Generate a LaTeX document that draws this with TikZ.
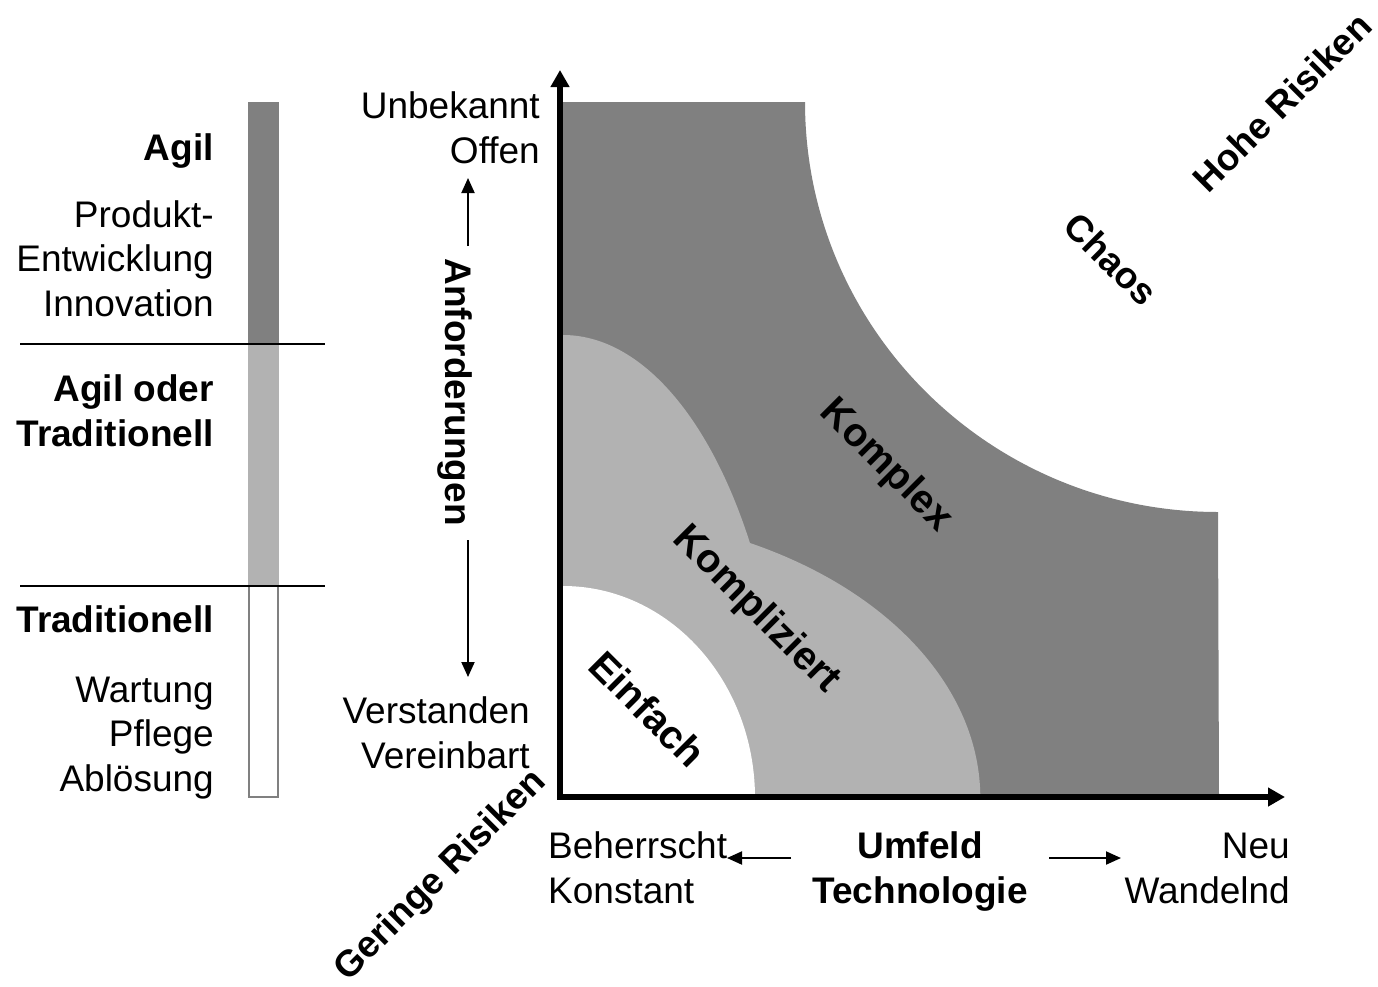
\documentclass[tikz,border=0pt]{standalone}
\usepackage{fontspec}
\setmainfont{Liberation Sans}
\usepackage{tikz}
\usetikzlibrary{arrows.meta}
\tikzset{
	axis/.style={line width=6pt, line join=miter, {Triangle[length=17pt,width=18pt]}-{Triangle[length=17pt,width=18pt]}},
	pfeil/.style={line width=2pt, -{Triangle[length=15pt,width=13pt]}}
}
\tikzstyle{dunkel}=[fill=black!50]
\tikzstyle{hell}=[fill=black!30]
\tikzstyle{txt}=[inner sep=0pt, font=\fontsize{37}{44.5}\selectfont]
\tikzstyle{fett}=[inner sep=0pt, font=\fontsize{37}{44.5}\selectfont\bfseries]
\tikzstyle{zone}=[inner sep=0pt, rotate=-45, font=\fontsize{40}{48}\selectfont\bfseries]

\begin{document}
\begin{tikzpicture}[x=1pt, y=-1pt]
	\useasboundingbox (0,0) rectangle (1378,986);
% zones
	\fill[dunkel] (563,102) -- (805,102) arc[start angle=180, end angle=90, x radius=413, y radius=410] -- (1219,798) -- (563,798) -- cycle;
	\fill[hell] (563,798) -- (563,335) arc[start angle=-90, end angle=-33.4, x radius=224, y radius=463]
		-- (750,543) arc[start angle=-63.4, end angle=0, x radius=417, y radius=285] -- cycle;
	\fill[white] (563,798) -- (563,586) arc[start angle=-90, end angle=0, x radius=192, y radius=212] -- cycle;
%
	\coordinate (O) at (560,797);
	\coordinate (ytip) at (560,70);
	\coordinate (xtip) at (1285,797);
	\draw[axis] (ytip) -- (O) -- (xtip);
%
	\node[fett, rotate=-45] (chaos) at (1111,259) {Chaos};
	\node[zone] (komplex) at (886,466) {Komplex};
	\node[zone] (kompliziert) at (756,610) {Kompliziert};
	\node[zone] (einfach) at (648,709) {Einfach};
	\node[fett, rotate=45] (hoch) at (1282,102) {Hohe Risiken};
	\node[fett, rotate=45] (gering) at (441,876) {Geringe Risiken};
% y axis
	\node[txt, anchor=base east, align=right] (unb) at (540,163) {Unbekannt\\Offen};
	\node[txt, anchor=base east, align=right] (ver) at (530,768) {Verstanden\\Vereinbart};
	\node[fett, rotate=-90] (anf) at (455,392) {Anforderungen};
	\coordinate (anfoben) at (468,246);
	\coordinate (anfunten) at (468,540);
	\coordinate (obentip) at (468,178);
	\coordinate (untentip) at (468,677);
	\draw[pfeil] (anfoben) -- (obentip);
	\draw[pfeil] (anfunten) -- (untentip);
% x axis
	\node[txt, anchor=base west, align=left] (beh) at (548,903) {Beherrscht\\Konstant};
	\node[fett, anchor=base, align=center] (umf) at (920,903) {Umfeld\\Technologie};
	\node[txt, anchor=base east, align=right] (neu) at (1290,903) {Neu\\Wandelnd};
	\coordinate (links) at (791,858);
	\coordinate (rechts) at (1049,858);
	\draw[pfeil] (links) -- (727,858);
	\draw[pfeil] (rechts) -- (1121,858);
% bar
	\fill[dunkel] (248,102) rectangle (279,344);
	\fill[hell] (248,344) rectangle (279,586);
	\draw[black!50, line width=2pt] (249,586) rectangle (278,797);
	\draw[line width=1.5pt] (20,344) -- (325,344);
	\draw[line width=1.5pt] (20,586) -- (325,586);
%
	\node[fett, anchor=base east] (agil) at (214,160) {Agil};
	\node[txt, anchor=base east, align=right] (produkt) at (214,316) {Produkt-\\Entwicklung\\Innovation};
	\node[fett, anchor=base east, align=right] (beides) at (214,446) {Agil oder\\Traditionell};
	\node[fett, anchor=base east] (trad) at (214,632) {Traditionell};
	\node[txt, anchor=base east, align=right] (wartung) at (214,791) {Wartung\\Pflege\\Ablösung};
\end{tikzpicture}
\end{document}
